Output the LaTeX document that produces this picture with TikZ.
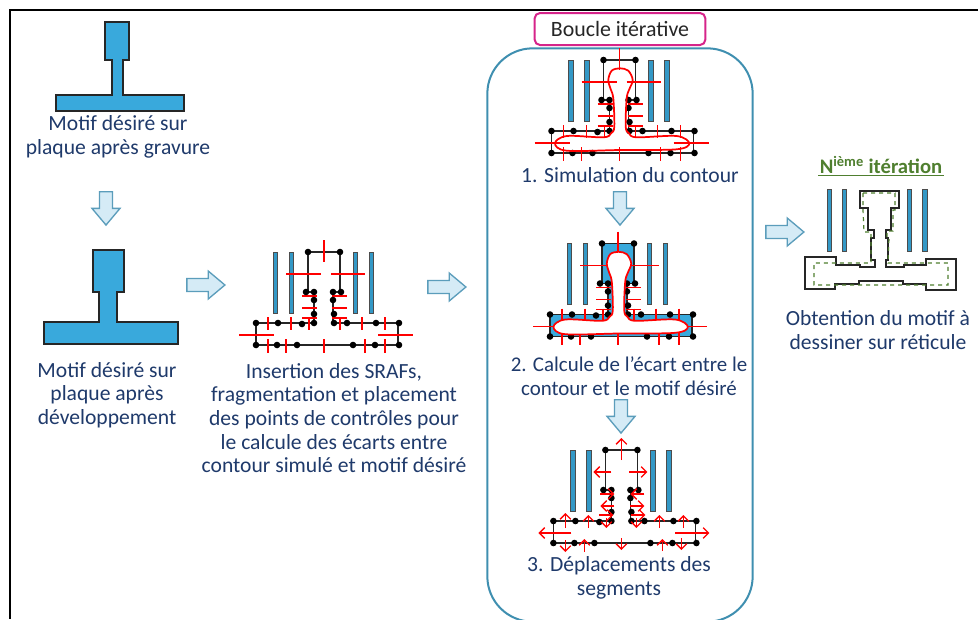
\documentclass[tikz,border=0pt]{standalone}
\usepackage{fontspec}
\setmainfont{Carlito}
\usetikzlibrary{shapes.arrows,arrows.meta}
\definecolor{bleumotif}{HTML}{39A9DC}
\definecolor{bleutexte}{HTML}{1F3A6B}
\definecolor{bleucadre}{HTML}{3F8FB0}
\definecolor{bleufleche}{HTML}{D5EBF6}
\definecolor{bordfleche}{HTML}{5B9DBB}
\definecolor{rose}{HTML}{D6248A}
\definecolor{vert}{HTML}{4F7F2F}
\tikzset{
  legende/.style={text=bleutexte, align=center, font=\fontsize{16.2}{17.7}\selectfont},
  motif/.style={draw=black!85, fill=bleumotif, line width=1pt},
  sraf/.style={draw=black!70, fill=bleumotif!90!black, line width=0.7pt},
  masque/.style={draw=black!85, line width=1.3pt},
  ecart/.style={draw=red, line width=1pt},
  contour/.style={draw=red, line width=1.3pt},
  deplace/.style={draw=red, line width=1pt, -{Straight Barb[length=4pt,width=8pt]}},
  grossefleche/.style={single arrow, draw=bordfleche, fill=bleufleche, line width=1pt,
    inner ysep=4.4pt, inner xsep=0pt, single arrow head extend=5.6pt,
    single arrow tip angle=80, minimum height=25pt},
}
% Barres d'assistance
\newcommand{\lessrafs}{
  \foreach \x in {275.5,291.5,355.5,371.5}
    \draw[sraf] (\x-2.2,252) rectangle (\x+2.2,313);
}
% Contour du masque
\newcommand{\tracemasque}{
  (308,252) -- (340,252) -- (340,292) -- (333,292) -- (333,323) -- (398,323)
  -- (398,345) -- (256,345) -- (256,323) -- (314,323) -- (314,292) -- (306,292)
  -- (308,292) -- cycle
}
% Points de controle
\newcommand{\lespoints}{
  \foreach \x/\y in {308/252,340/252,306/292,314/292,314/300,314/314,314/323,302/324,
    278/323,256/323,256/345,277/345,297/345,353/345,375/345,399/345,399/323,376/323,
    347/323,334/323,334/314,333/300,333/292,341/292}
    \fill[black] (\x,\y) circle (3.3);
}
% Traits de mesure
\newcommand{\lestraits}{
  \draw[ecart] (324,240) -- (324,262);
  \draw[ecart] (286,274) -- (321,274);
  \draw[ecart] (331,274) -- (365,274);
  \foreach \y in {296,308,318} {
    \draw[ecart] (302,\y) -- (317,\y);
    \draw[ecart] (332,\y) -- (347,\y);
  }
  \foreach \x in {268,291,309,340,362,385}
    \draw[ecart] (\x,317) -- (\x,330);
  \foreach \x in {268,286,324,365,385}
    \draw[ecart] (\x,339) -- (\x,353);
  \draw[ecart] (239,335) -- (274,335);
  \draw[ecart] (378,335) -- (413,335);
}
% Contour simule
\newcommand{\tracesimule}{
  plot[smooth cycle, tension=0.55] coordinates {(324.5,260.3) (332.8,262.7) (337.2,272)
    (333.8,281.3) (331.2,290.3) (330.2,318.7) (333.5,325.3) (341.2,329.3) (381.2,328)
    (393.8,335.3) (381.2,341.3) (324.5,342) (271.2,342.7) (259.5,335.3) (271.2,328)
    (307.8,329.3) (315.5,325.3) (318.8,318.7) (317.8,290.3) (315.2,281.3) (312.8,272)
    (316.2,262.7)}
}
\begin{document}
\begin{tikzpicture}[x=0.75pt, y=-0.75pt]
  \useasboundingbox[fill=white] (0,0) rectangle (978,619);
  \draw[black, line width=1.6pt] (978,10) -- (10,10) -- (10,619);

  % Colonne de gauche
  \draw[motif] (105,22) -- (129,22) -- (129,60) -- (123,60) -- (123,95) -- (184,95)
    -- (184,111) -- (56,111) -- (56,95) -- (112,95) -- (112,60) -- (105,60) -- cycle;
  \node[legende] (gravure) at (118,137) {Motif désiré sur\\plaque après gravure};
  \node[grossefleche, rotate=-90] (flecheA) at (106,204.5) {};
  \draw[motif] (93,250) -- (124,250) -- (124,292) -- (117,292) -- (117,322) -- (178,322)
    -- (178,344) -- (44,344) -- (44,322) -- (99,322) -- (99,292) -- (93,292) -- cycle;
  \node[legende] (developpement) at (107,395) {Motif désiré sur\\plaque après\\développement};
  \node[grossefleche, minimum height=28.5pt] (flecheB) at (202,285) {};

  % Fragmentation
  \lessrafs
  \draw[masque] \tracemasque;
  \lestraits
  \lespoints
  \node[legende] (insertion) at (334,418) {Insertion des SRAFs,\\fragmentation et placement\\des points de contrôles pour\\le calcule des écarts entre\\contour simulé et motif désiré};
  \node[grossefleche, minimum height=28.5pt] (flecheC) at (443,287) {};

  % Boucle iterative
  \node[draw=bleucadre, line width=1.5pt, rounded corners=34pt, minimum width=199pt,
    minimum height=430pt, inner sep=0pt] (boucle) at (620,335) {};
  \node[draw=rose, fill=white, line width=1.5pt, rounded corners=4pt, minimum width=128pt,
    minimum height=24pt, inner sep=0pt, text=black!85, font=\fontsize{16.4}{17}\selectfont] (titre) at (620,29) {Boucle itérative};

  % Etape 1
  \begin{scope}[shift={(295.5,-192)}]
    \lessrafs
    \draw[masque] \tracemasque;
    \lestraits
    \lespoints
    \draw[contour] \tracesimule;
  \end{scope}
  \node[legende] (simulation) at (630,175) {1. Simulation du contour};
  \node[grossefleche, rotate=-90] (flecheD) at (620,204.5) {};

  % Etape 2
  \begin{scope}[shift={(294,-8.5)}]
    \lessrafs
    \draw[masque, fill=bleumotif] \tracemasque;
    \lestraits
    \lespoints
    \draw[contour, fill=white] \tracesimule;
  \end{scope}
  \node[legende, font=\fontsize{15.7}{17.7}\selectfont] (calcule) at (629,376) {2. Calcule de l’écart entre le\\contour et le motif désiré};
  \node[grossefleche, rotate=-90] (flecheE) at (621,412.5) {};

  % Etape 3
  \begin{scope}[shift={(297.4,198)}]
    \lessrafs
    \draw[masque] \tracemasque;
    \lespoints
    \draw[deplace] (324,262) -- (324,240);
    \draw[deplace] (314,274) -- (296,274);
    \draw[deplace] (332,274) -- (350,274);
    \draw[deplace] (303,296) -- (317,296);
    \draw[deplace] (347,296) -- (333,296);
    \draw[deplace] (317,308) -- (303,308);
    \draw[deplace] (333,308) -- (347,308);
    \draw[deplace] (302,317) -- (316,317);
    \draw[deplace] (334,317) -- (348,317);
    \draw[deplace] (309,320) -- (309,330);
    \draw[deplace] (339,320) -- (339,330);
    \draw[deplace] (268,330) -- (268,315);
    \draw[deplace] (291,330) -- (291,317);
    \draw[deplace] (362,330) -- (362,317);
    \draw[deplace] (386,330) -- (386,317);
    \draw[deplace] (268,342) -- (268,354);
    \draw[deplace] (287,354) -- (287,341);
    \draw[deplace] (324,340) -- (324,352);
    \draw[deplace] (365,353) -- (365,341);
    \draw[deplace] (384,340) -- (384,352);
    \draw[deplace] (274,335) -- (241,335);
    \draw[deplace] (378,335) -- (412,335);
  \end{scope}
  \node[legende] (deplacements) at (619,578) {3. Déplacements des\\segments};

  \node[grossefleche, minimum height=28.5pt] (flecheF) at (781,232) {};

  % Derniere iteration
  \node[text=vert, inner sep=1pt, font=\fontsize{15.5}{17}\selectfont\bfseries] (iteration) at (881,165) {N\textsuperscript{ième} itération};
  \draw[vert, line width=1pt] (iteration.south west) -- (iteration.south east);
  \foreach \x in {829.5,844.5,909.5,925}
    \draw[sraf] (\x-2.2,189) rectangle (\x+2.2,251);
  \draw[black!85, line width=1.4pt] (860,191) -- (899,191) -- (899,208) -- (891,208) -- (891,230)
    -- (886,230) -- (886,238) -- (888,238) -- (888,260) -- (886,260) -- (886,267) -- (904,267)
    -- (904,265) -- (926,265) -- (926,259) -- (956,259) -- (956,290) -- (926,290) -- (926,284)
    -- (903,284) -- (903,281) -- (859,281) -- (859,284) -- (835,284) -- (835,289) -- (805,289)
    -- (805,257) -- (836,257) -- (836,265) -- (860,265) -- (860,267) -- (875,267) -- (875,260)
    -- (871,260) -- (871,238) -- (874,238) -- (874,230) -- (868,230) -- (868,208) -- (860,208) -- cycle;
  \draw[vert, line width=0.9pt, dashed] (863,193) -- (895,193) -- (895,210) -- (893,210) -- (893,231)
    -- (887,231) -- (887,238) -- (889,238) -- (888,263) -- (948,263)
    -- (948,285) -- (814,285) -- (814,263) -- (871,263) -- (871,232) -- (864,232) -- (863,210) -- cycle;
  \node[legende] (obtention) at (878,330) {Obtention du motif à\\dessiner sur réticule};
\end{tikzpicture}
\end{document}
